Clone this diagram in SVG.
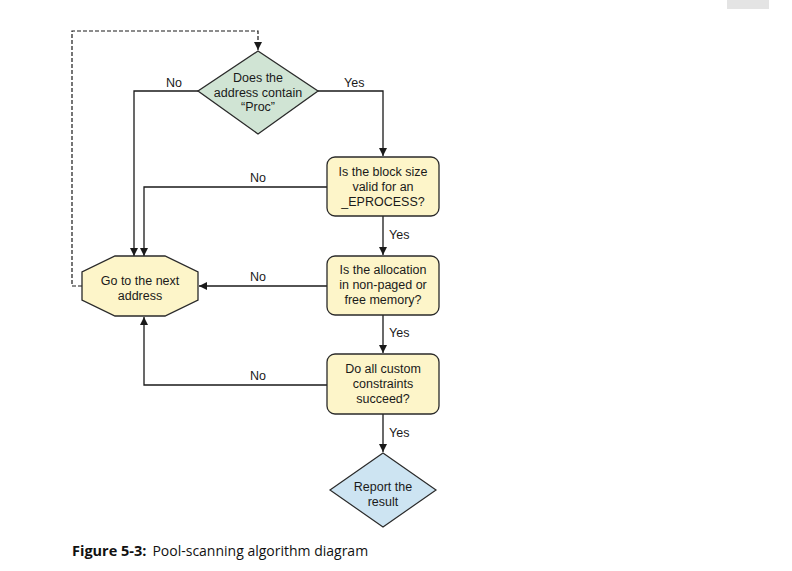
<svg xmlns="http://www.w3.org/2000/svg" width="792" height="571" viewBox="0 0 792 571">
<style>
.t{font-family:"Liberation Sans","Open Sans",sans-serif;font-size:12.5px;fill:#1a1a1a;text-anchor:middle}
.l{font-family:"Liberation Sans","Open Sans",sans-serif;font-size:12.5px;fill:#1a1a1a}
.c{fill:none;stroke:#1a1a1a;stroke-width:1.3}
.d{fill:none;stroke:#1a1a1a;stroke-width:1.2;stroke-dasharray:4,2}
.box{fill:#fdf5c9;stroke:#2a2a2a;stroke-width:1.3}
</style>
<defs>
<marker id="ah" viewBox="0 0 10 10" refX="10" refY="5" markerWidth="8" markerHeight="8" markerUnits="userSpaceOnUse" orient="auto">
<path d="M0,0 L10,5 L0,10 Z" fill="#1a1a1a"/>
</marker>
</defs>
<rect width="792" height="571" fill="#ffffff"/>
<rect x="727" y="0" width="42" height="9" fill="#e4e4e4"/>
<g id="connectors">
<path class="d" d="M82,286 H72 V31 H258 V50" marker-end="url(#ah)"/>
<path class="c" d="M198,91 H134 V256" marker-end="url(#ah)"/>
<path class="c" d="M318,91 H383 V156" marker-end="url(#ah)"/>
<path class="c" d="M327,187 H144 V256" marker-end="url(#ah)"/>
<path class="c" d="M383,216 V255" marker-end="url(#ah)"/>
<path class="c" d="M327,286 H199" marker-end="url(#ah)"/>
<path class="c" d="M383,315 V353" marker-end="url(#ah)"/>
<path class="c" d="M327,385 H144 V317" marker-end="url(#ah)"/>
<path class="c" d="M383,414 V452" marker-end="url(#ah)"/>
<text class="l" x="166" y="87">No</text>
<text class="l" x="344" y="87">Yes</text>
<text class="l" x="250" y="182">No</text>
<text class="l" x="389" y="239">Yes</text>
<text class="l" x="250" y="281">No</text>
<text class="l" x="389" y="337">Yes</text>
<text class="l" x="250" y="380">No</text>
<text class="l" x="389" y="437">Yes</text>
</g>
<g id="n-proc">
<polygon points="258,51 318,91 258,134 198,91" fill="#d0e4d4" stroke="#2a2a2a" stroke-width="1.3"/>
<text class="t" x="258" y="82">Does the</text>
<text class="t" x="258" y="97">address contain</text>
<text class="t" x="258" y="111">“Proc”</text>
</g>
<g id="n-blocksize">
<rect class="box" x="327" y="157" width="112" height="59" rx="8"/>
<text class="t" x="383" y="176">Is the block size</text>
<text class="t" x="383" y="191">valid for an</text>
<text class="t" x="383" y="206">_EPROCESS?</text>
</g>
<g id="n-next">
<polygon class="box" points="115,256 165,256 198,272 198,300 165,316 115,316 82,300 82,272"/>
<text class="t" x="140" y="285">Go to the next</text>
<text class="t" x="140" y="300">address</text>
</g>
<g id="n-alloc">
<rect class="box" x="327" y="256" width="112" height="59" rx="8"/>
<text class="t" x="383" y="274">Is the allocation</text>
<text class="t" x="383" y="289">in non-paged or</text>
<text class="t" x="383" y="304">free memory?</text>
</g>
<g id="n-custom">
<rect class="box" x="327" y="354" width="112" height="60" rx="8"/>
<text class="t" x="383" y="373">Do all custom</text>
<text class="t" x="383" y="388">constraints</text>
<text class="t" x="383" y="403">succeed?</text>
</g>
<g id="n-report">
<polygon points="383,453 436,490 383,527 330,490" fill="#cde4f2" stroke="#2a2a2a" stroke-width="1.2"/>
<text class="t" x="383" y="491">Report the</text>
<text class="t" x="383" y="506">result</text>
</g>
<text x="72" y="556" font-family="'Open Sans','Liberation Sans',sans-serif" font-size="14" fill="#111"><tspan font-weight="bold" font-size="14.5">Figure 5-3:</tspan><tspan dx="6">Pool-scanning algorithm diagram</tspan></text>
</svg>
